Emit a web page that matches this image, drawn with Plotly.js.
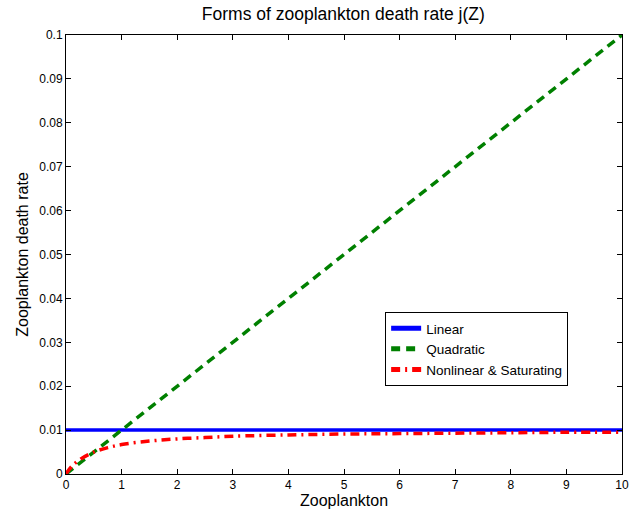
<!DOCTYPE html>
<html><head><meta charset="utf-8">
<script src="https://cdn.plot.ly/plotly-3.0.1.min.js"></script>
<style>html,body{margin:0;padding:0;background:#fff}</style>
</head><body>
<div id="chart" style="width:630px;height:518px"></div>
<script>
const zLinear = [0, 10];
const linearRate = [0.01, 0.01];
const zQuadratic = [0, 1, 2, 3, 4, 5, 6, 7, 8, 9, 10];
const quadraticRate = [0, 0.01, 0.02, 0.03, 0.04, 0.05, 0.06, 0.07, 0.08, 0.09, 0.1];
const zSaturating = [0, 0.1, 0.25, 0.5, 0.75, 1, 1.5, 2, 2.5, 3, 4, 5, 6, 7, 8, 9, 10];
const saturatingRate = [0, 0.0017, 0.0033, 0.005, 0.006, 0.0067, 0.0075, 0.008, 0.0083, 0.0086, 0.0089, 0.0091, 0.0092, 0.0093, 0.0094, 0.0095, 0.0095];
const xTicks = [0,1,2,3,4,5,6,7,8,9,10];
const yTicks = [0,0.01,0.02,0.03,0.04,0.05,0.06,0.07,0.08,0.09,0.1];
const yTickText = ['0','0.01','0.02','0.03','0.04','0.05','0.06','0.07','0.08','0.09','0.1'];

const font = 'Liberation Sans, Arial, Helvetica, sans-serif';
const traces = [
  {x: zLinear, y: linearRate, name: 'Linear', mode: 'lines', line: {color: '#0000ff', width: 3.5}},
  {x: zQuadratic, y: quadraticRate, name: 'Quadratic', mode: 'lines', line: {color: '#008000', width: 3.5, dash: '9px,6px'}},
  {x: zSaturating, y: saturatingRate, name: 'Nonlinear &amp; Saturating', mode: 'lines', line: {color: '#ff0000', width: 3.5, dash: '9px,5px,2px,5px', shape: 'spline'}}
];
const axisCommon = {
  showline: true, linecolor: '#000', linewidth: 1, mirror: 'ticks',
  ticks: 'inside', ticklen: 5, tickcolor: '#000', tickwidth: 1,
  showgrid: false, zeroline: false, tickfont: {family: font, size: 12, color: '#000'}
};
const layout = {
  width: 630, height: 518,
  paper_bgcolor: '#fff', plot_bgcolor: '#fff',
  margin: {l: 66, r: 8, t: 35, b: 44},
  showlegend: true,
  title: {text: 'Forms of zooplankton death rate j(Z)', font: {family: font, size: 17.5, color: '#000'}, x: 0.545, xanchor: 'center', y: 0.973, yanchor: 'middle'},
  xaxis: Object.assign({}, axisCommon, {range: [0, 10], tickvals: xTicks, ticktext: xTicks.map(String),
    title: {text: 'Zooplankton', font: {family: font, size: 16, color: '#000'}, standoff: 2}}),
  yaxis: Object.assign({}, axisCommon, {range: [0, 0.1], tickvals: yTicks, ticktext: yTickText,
    title: {text: 'Zooplankton death rate', font: {family: font, size: 16, color: '#000'}, standoff: 6}}),
  legend: {x: 0.574, y: 0.369, xanchor: 'left', yanchor: 'top', bgcolor: '#fff', bordercolor: '#000', borderwidth: 1,
    font: {family: font, size: 13.5, color: '#000'}, tracegroupgap: 0, itemwidth: 30, itemsizing: 'constant'}
};
Plotly.newPlot('chart', traces, layout, {displayModeBar: false, staticPlot: true});
</script>
</body></html>
